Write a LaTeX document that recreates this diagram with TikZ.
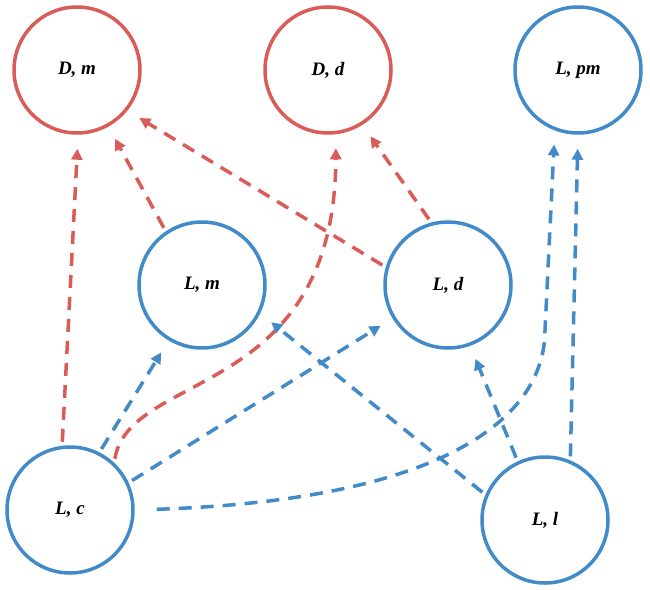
\documentclass[tikz,border=0pt]{standalone}
\usepackage{fontspec}
\setmainfont{Liberation Serif}
\usetikzlibrary{arrows.meta}
\definecolor{cred}{RGB}{218,92,88}
\definecolor{cblue}{RGB}{66,138,200}
\begin{document}
\begin{tikzpicture}[x=1pt,y=-1pt,
  st/.style={circle,draw,line width=3.5pt,minimum size=126pt,inner sep=0pt,font=\fontsize{19}{22}\selectfont\bfseries\itshape},
  rn/.style={st,draw=cred},
  bn/.style={st,draw=cblue},
  ar/.style={line width=3.5pt,dash pattern=on 13pt off 9pt,-{Triangle[length=11pt,width=11pt]},shorten >=14pt,shorten <=4pt},
  ra/.style={ar,draw=cred},
  ba/.style={ar,draw=cblue}]
\useasboundingbox (0,0) rectangle (650,589);
\node[rn] (Dm) at (77,70) {D, m};
\node[rn] (Dd) at (328,70) {D, d};
\node[bn] (Lpm) at (578,70) {L, pm};
\node[bn] (Lm) at (202,285) {L, m};
\node[bn] (Ld) at (448,285) {L, d};
\node[bn] (Lc) at (70,510) {L, c};
\node[bn] (Ll) at (545,520) {L, l};
\draw[ra] (Lc.97) -- (Dm.-89);
\draw[ra] (Lm.124) -- (Dm.-61);
\draw[ra] (Ld.164) -- (Dm.-39);
\draw[ra] (Ld.105) -- (Dd.-58);
\draw[ra] (Lc.47) .. controls (130,370) and (335,400) .. (Dd.-83);
\draw[ba] (Lc.63) -- (Lm.-121);
\draw[ba] (Lc.25) -- (Ld.-149);
\draw[ba,shorten <=22pt] (Lc.0) .. controls (440,500) and (545,420) .. (545,330) -- (Lpm.-111);
\draw[ba] (Ll.157) -- (Lm.-26);
\draw[ba] (Ll.115) -- (Ld.-70);
\draw[ba] (Ll.67) -- (Lpm.-90);
\end{tikzpicture}
\end{document}
